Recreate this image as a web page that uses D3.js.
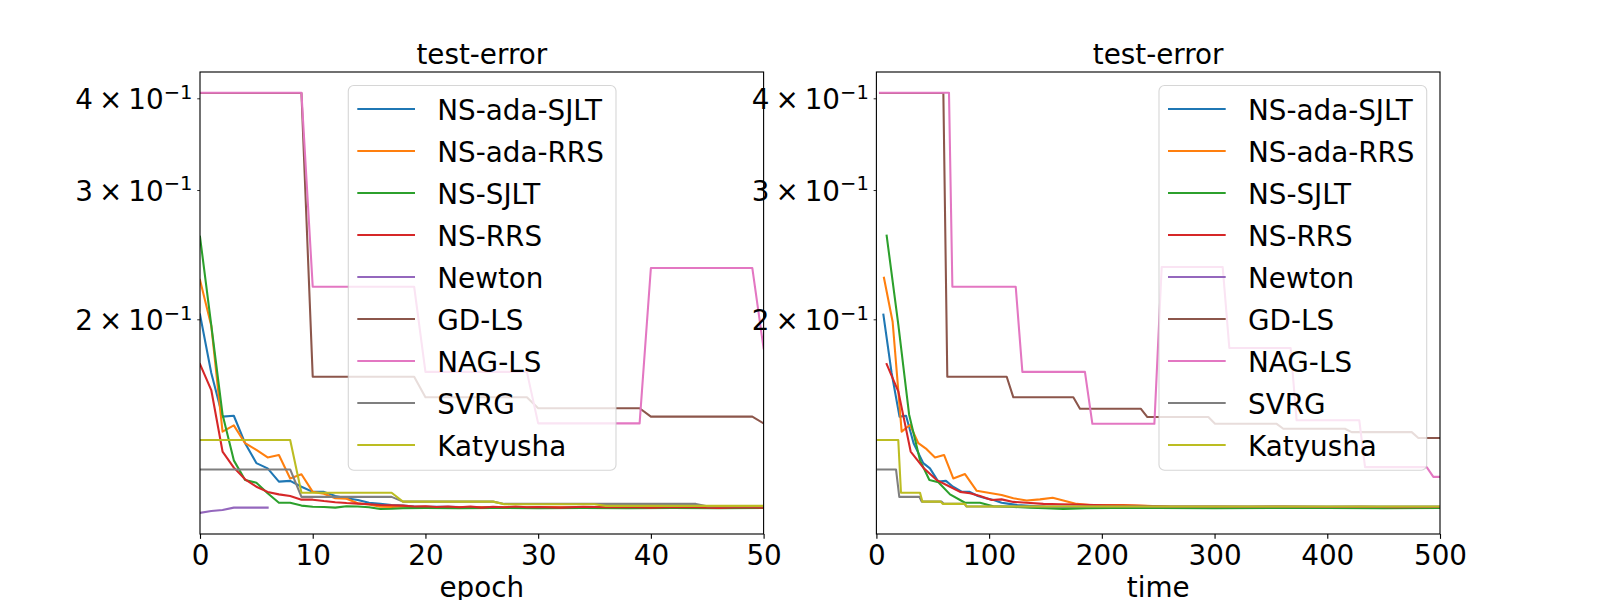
<!DOCTYPE html>
<html>
<head>
<meta charset="utf-8">
<script src="https://cdn.jsdelivr.net/npm/d3@7"></script>
<style>
  body { margin: 0; background: #fff; }
  svg { display: block; font-family: "DejaVu Sans", sans-serif; }
</style>
</head>
<body>
<svg id="canvas" width="1600" height="600"></svg>
<script>
// ---- data ----
const methods = ["NS-ada-SJLT", "NS-ada-RRS", "NS-SJLT", "NS-RRS", "Newton", "GD-LS", "NAG-LS", "SVRG", "Katyusha"];

const yTickValues = [0.2, 0.3, 0.4];
const yTickMantissas = ["2", "3", "4"];
const epochTicks = [0, 10, 20, 30, 40, 50];
const timeTicks = [0, 100, 200, 300, 400, 500];

// left panel: [epoch, test-error]
const epochAdaSjlt = [[0,0.2030],[1,0.1690],[2,0.1474],[3,0.1478],[4,0.1356],[5,0.1274],[6,0.1253],[7,0.1202],[8,0.1205],[9,0.1183],[10,0.1164],[11,0.1164],[12,0.1149],[13,0.1141],[14,0.1135],[15,0.1125],[16,0.1121],[17,0.1117],[18,0.1115],[19,0.1112],[20,0.1111],[22,0.1111],[24,0.1109],[26,0.1110],[28,0.1108],[30,0.1109],[33,0.1108],[36,0.1109],[40,0.1108],[44,0.1109],[47,0.1108],[50,0.1108]];
const epochAdaRrs = [[0,0.2263],[1,0.1960],[2,0.1406],[3,0.1434],[4,0.1356],[5,0.1328],[6,0.1297],[7,0.1307],[8,0.1214],[9,0.1230],[10,0.1164],[11,0.1157],[12,0.1141],[13,0.1139],[14,0.1123],[15,0.1119],[16,0.1111],[17,0.1110],[18,0.1112],[19,0.1110],[20,0.1111],[22,0.1108],[24,0.1110],[26,0.1109],[28,0.1108],[31,0.1110],[34,0.1108],[38,0.1109],[42,0.1108],[46,0.1107],[50,0.1108]];
const epochSjlt = [[0,0.2591],[1,0.1964],[2,0.1484],[3,0.1285],[4,0.1208],[5,0.1198],[6,0.1159],[7,0.1125],[8,0.1125],[9,0.1115],[10,0.1111],[11,0.1110],[12,0.1108],[13,0.1113],[14,0.1112],[15,0.1109],[16,0.1103],[17,0.1104],[18,0.1106],[20,0.1107],[23,0.1106],[26,0.1107],[30,0.1106],[34,0.1107],[38,0.1106],[42,0.1107],[46,0.1106],[50,0.1107]];
const epochRrs = [[0,0.1738],[1,0.1602],[2,0.1321],[3,0.1256],[4,0.1211],[5,0.1183],[6,0.1164],[7,0.1155],[8,0.1149],[9,0.1136],[10,0.1136],[11,0.1131],[12,0.1127],[13,0.1124],[14,0.1122],[15,0.1120],[16,0.1117],[17,0.1116],[18,0.1115],[19,0.1112],[20,0.1113],[21,0.1110],[22,0.1112],[23,0.1109],[24,0.1112],[25,0.1108],[26,0.1111],[27,0.1109],[28,0.1112],[29,0.1109],[30,0.1110],[32,0.1108],[34,0.1111],[36,0.1109],[38,0.1110],[40,0.1108],[42,0.1110],[44,0.1109],[46,0.1107],[48,0.1109],[50,0.1108]];
const epochNewton = [[0,0.1090],[1,0.1096],[2,0.1100],[3,0.1108],[4,0.1108],[5,0.1108],[6,0.1108]];
const epochGdLs = [[0,0.4067],[9,0.4067],[10,0.1670],[19,0.1670],[20,0.1566],[29,0.1566],[30,0.1513],[39,0.1513],[40,0.1474],[49,0.1474],[50,0.1443]];
const epochNagLs = [[0,0.4071],[9,0.4071],[10,0.2215],[19,0.2215],[20,0.1696],[29,0.1696],[30,0.1443],[39,0.1443],[40,0.2349],[49,0.2349],[50,0.1826]];
const epochSvrg = [[0,0.1249],[8,0.1249],[9,0.1146],[17,0.1146],[18,0.1129],[26,0.1129],[27,0.1121],[44,0.1121],[45,0.1113],[50,0.1113]];
const epochKatyusha = [[0,0.1370],[8,0.1370],[9,0.1161],[17,0.1161],[18,0.1129],[26,0.1129],[27,0.1120],[35,0.1120],[36,0.1114],[50,0.1114]];

// right panel: [time, test-error]
const timeAdaSjlt = [[6.2,0.2030],[13.5,0.1690],[20.5,0.1474],[26.3,0.1478],[33,0.1356],[41.6,0.1274],[47.5,0.1253],[54.9,0.1202],[61.7,0.1205],[68,0.1183],[76,0.1164],[82.8,0.1164],[90,0.1149],[97,0.1141],[104,0.1135],[111,0.1125],[118,0.1121],[125,0.1117],[132,0.1115],[150,0.1111],[175,0.1110],[200,0.1107],[225,0.1109],[250,0.1108],[275,0.1108],[300,0.1109],[350,0.1108],[400,0.1108],[450,0.1109],[500,0.1108]];
const timeAdaRrs = [[6.7,0.2278],[14.4,0.1985],[22.4,0.1406],[29.8,0.1436],[37.2,0.1356],[44.6,0.1331],[52,0.1297],[60,0.1307],[68.2,0.1214],[78.6,0.1231],[89,0.1168],[99.3,0.1161],[111.1,0.1153],[121.5,0.1141],[133.3,0.1133],[145.1,0.1137],[156.4,0.1143],[165.8,0.1133],[177.7,0.1121],[189.5,0.1117],[201.3,0.1117],[219,0.1117],[239.8,0.1114],[260.5,0.1111],[287,0.1110],[320,0.1109],[360,0.1110],[400,0.1108],[450,0.1109],[500,0.1108]];
const timeSjlt = [[9.1,0.2600],[19.5,0.1964],[29,0.1484],[38.7,0.1285],[47,0.1208],[55,0.1200],[65.3,0.1155],[78.6,0.1125],[91.9,0.1125],[103.7,0.1113],[118.5,0.1111],[136.2,0.1108],[150,0.1106],[165.8,0.1103],[186.5,0.1106],[210,0.1107],[250,0.1107],[300,0.1106],[350,0.1107],[400,0.1107],[450,0.1106],[500,0.1107]];
const timeRrs = [[9.1,0.1738],[19.5,0.1594],[30.4,0.1321],[41.6,0.1256],[53.5,0.1208],[65.3,0.1183],[74.2,0.1164],[83,0.1159],[91.9,0.1149],[102.3,0.1135],[111.1,0.1137],[121.5,0.1128],[133.3,0.1125],[148.1,0.1121],[162.9,0.1120],[177.7,0.1119],[201.3,0.1116],[230.9,0.1114],[260.5,0.1112],[300,0.1112],[330,0.1111],[360,0.1112],[400,0.1110],[430,0.1111],[460,0.1109],[500,0.1110]];
const timeNewton = [];
const timeGdLs = [[3.2,0.4067],[59.4,0.4067],[62.9,0.1670],[115.6,0.1670],[121.5,0.1566],[174.7,0.1566],[180.6,0.1511],[234.5,0.1511],[240.4,0.1472],[294.5,0.1472],[300.4,0.1441],[355.1,0.1441],[361,0.1419],[415.7,0.1419],[421.6,0.1404],[474.9,0.1404],[480.8,0.1378],[500,0.1378]];
const timeNagLs = [[3.2,0.4071],[64.4,0.4071],[67.4,0.2215],[123.6,0.2215],[129.5,0.1696],[185,0.1696],[191.6,0.1441],[246.6,0.1441],[253.1,0.2357],[307.2,0.2357],[313.1,0.1828],[367.5,0.1828],[372.8,0.1457],[428.4,0.1457],[433.5,0.1258],[488.2,0.1258],[494.1,0.1220],[500,0.1220]];
const timeSvrg = [[1,0.1249],[17.4,0.1249],[20.3,0.1146],[38.1,0.1146],[40.2,0.1129],[57.9,0.1129],[60,0.1121],[78,0.1121],[80,0.1112],[500,0.1112]];
const timeKatyusha = [[1,0.1370],[19.4,0.1370],[21.8,0.1161],[38.7,0.1161],[40.8,0.1129],[57,0.1129],[58.8,0.1121],[78.6,0.1121],[80,0.1112],[500,0.1112]];

// ---- styling ----
const colors = ["#1f77b4", "#ff7f0e", "#2ca02c", "#d62728", "#9467bd", "#8c564b", "#e377c2", "#7f7f7f", "#bcbd22"];
const fontSize = 27.8;
const plotTop = 72, plotBottom = 534;

const panels = [
    { left: 200, right: 763.6, domain: [0, 50], ticks: epochTicks, xlabel: "epoch", legendX: 348.3,
      series: [epochAdaSjlt, epochAdaRrs, epochSjlt, epochRrs, epochNewton, epochGdLs, epochNagLs, epochSvrg, epochKatyusha] },
    { left: 876.4, right: 1440, domain: [0, 500], ticks: timeTicks, xlabel: "time", legendX: 1159,
      series: [timeAdaSjlt, timeAdaRrs, timeSjlt, timeRrs, timeNewton, timeGdLs, timeNagLs, timeSvrg, timeKatyusha] }
];

let svg = d3.select("#canvas");

let y = d3.scaleLog().domain([0.1020, 0.4344]).range([plotBottom, plotTop]);

panels.forEach((panel, i) => {
    let x = d3.scaleLinear().domain(panel.domain).range([panel.left, panel.right]);
    let g = svg.append("g");

    g.append("clipPath").attr("id", "clip" + i)
        .append("rect")
        .attr("x", panel.left).attr("y", plotTop)
        .attr("width", panel.right - panel.left).attr("height", plotBottom - plotTop);

    let line = d3.line()
        .x((d) => x(d[0]))
        .y((d) => y(d[1]));

    // one path per method, in legend order
    g.append("g").attr("clip-path", "url(#clip" + i + ")")
        .selectAll("path")
        .data(panel.series)
        .enter()
        .append("path")
        .attr("d", (d) => d.length ? line(d) : null)
        .attr("fill", "none")
        .attr("stroke", (d, k) => colors[k])
        .attr("stroke-width", 2.08)
        .attr("stroke-linejoin", "round")
        .attr("stroke-linecap", "square");

    // spines
    g.append("rect")
        .attr("x", panel.left).attr("y", plotTop)
        .attr("width", panel.right - panel.left).attr("height", plotBottom - plotTop)
        .attr("fill", "none").attr("stroke", "#000").attr("stroke-width", 1.11);

    // x axis
    let xAxis = g.append("g")
        .attr("transform", `translate(0,${plotBottom})`)
        .call(d3.axisBottom(x).tickValues(panel.ticks).tickSize(4.86).tickFormat(d3.format("d")));
    xAxis.select(".domain").remove();
    xAxis.selectAll(".tick line").attr("stroke", "#000").attr("stroke-width", 1.11);
    xAxis.selectAll(".tick text")
        .attr("y", 31).attr("dy", null)
        .attr("fill", "#000")
        .style("font-size", fontSize + "px")
        .style("font-family", "DejaVu Sans");

    // y axis (log, labelled minor ticks)
    let yAxis = g.append("g")
        .attr("transform", `translate(${panel.left},0)`)
        .call(d3.axisLeft(y).tickValues(yTickValues).tickSize(2.78).tickFormat(""));
    yAxis.select(".domain").remove();
    yAxis.selectAll(".tick line").attr("stroke", "#000").attr("stroke-width", 0.83);
    yAxis.selectAll(".tick text").remove();
    yAxis.selectAll(".tick").each(function (d, k) {
        let t = d3.select(this).append("text")
            .attr("x", -7.6).attr("y", 10.2)
            .attr("text-anchor", "end")
            .attr("fill", "#000")
            .attr("font-family", "DejaVu Sans")
            .attr("font-size", fontSize)
            .style("font-size", fontSize + "px");
        t.append("tspan").style("font-size", fontSize + "px").text(yTickMantissas[k]);
        t.append("tspan").attr("dx", 6).style("font-size", fontSize + "px").text("\u00d7");
        t.append("tspan").attr("dx", 6).style("font-size", fontSize + "px").text("10");
        t.append("tspan").attr("dy", -10.5).style("font-size", "19.5px").text("\u22121");
    });

    // title and x label
    let cx = (panel.left + panel.right) / 2;
    g.append("text").attr("x", cx).attr("y", 63.5)
        .attr("text-anchor", "middle").style("font-size", fontSize + "px")
        .text("test-error");
    g.append("text").attr("x", cx).attr("y", 597)
        .attr("text-anchor", "middle").style("font-size", fontSize + "px")
        .text(panel.xlabel);

    // legend
    let legend = g.append("g").attr("transform", `translate(${panel.legendX},85.5)`);
    legend.append("rect")
        .attr("width", 267.7).attr("height", 384.8)
        .attr("rx", 5.5).attr("ry", 5.5)
        .attr("fill", "#fff").attr("fill-opacity", 0.8)
        .attr("stroke", "#ccc").attr("stroke-opacity", 0.8).attr("stroke-width", 1.11);
    let items = legend.selectAll(".item")
        .data(methods)
        .enter()
        .append("g")
        .attr("transform", (d, k) => `translate(0,${23.5 + k * 42})`);
    items.append("line")
        .attr("x1", 9).attr("x2", 66.7)
        .attr("stroke", (d, k) => colors[k]).attr("stroke-width", 2.08);
    items.append("text")
        .attr("x", 89).attr("y", 10.5)
        .style("font-size", fontSize + "px")
        .text((d) => d);
});
</script>
</body>
</html>
